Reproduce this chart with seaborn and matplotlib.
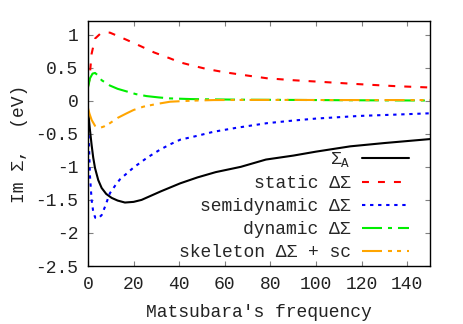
import matplotlib
matplotlib.use("Agg")
import matplotlib.pyplot as plt
import seaborn as sns

# Im Sigma vs Matsubara frequency
sa_x = [0, 0.8, 1.6, 2.3, 3.1, 4.5, 6, 8, 10.4, 13, 16.2, 20, 23.5, 32, 40.4, 48, 56, 67, 78, 90,
        100, 115, 130, 150]
sa_y = [-0.14, -0.42, -0.67, -0.86, -1.02, -1.20, -1.32, -1.41, -1.47, -1.51, -1.54, -1.53, -1.50,
        -1.37, -1.25, -1.16, -1.08, -1.0, -0.89, -0.83, -0.77, -0.69, -0.64, -0.58]

st_x = [0, 0.6, 1.6, 3.1, 5.3, 7, 9.6, 13, 17, 22.8, 29, 36, 40.4, 46, 52, 60, 70, 78.4, 90, 100, 119, 135, 150]
st_y = [0.22, 0.31, 0.71, 0.94, 1.01, 1.03, 1.03, 0.98, 0.92, 0.83, 0.73, 0.64, 0.58, 0.53, 0.48,
        0.43, 0.38, 0.34, 0.31, 0.29, 0.25, 0.22, 0.20]

sd_x = [0.3, 0.9, 1.6, 2.3, 3.2, 4.5, 6, 7.5, 9.6, 12, 14, 17, 20, 22.8, 26, 31.6, 36, 40.4, 48, 55,
        65, 78.4, 90, 100, 119, 135, 150]
sd_y = [-0.52, -1.15, -1.50, -1.68, -1.77, -1.78, -1.73, -1.60, -1.40, -1.28, -1.19, -1.10, -1.01,
        -0.94, -0.86, -0.74, -0.66, -0.59, -0.53, -0.47, -0.41, -0.34, -0.30, -0.27, -0.23, -0.21, -0.19]

dy_x = [0, 0.9, 2, 3.1, 4.5, 6, 9.6, 13, 17, 21, 25.7, 31, 36, 45, 55, 70, 90, 110, 130, 150]
dy_y = [0.20, 0.34, 0.41, 0.42, 0.38, 0.31, 0.23, 0.18, 0.14, 0.10, 0.07, 0.05, 0.035, 0.025,
        0.02, 0.015, 0.012, 0.008, 0.005, 0.003]

sk_x = [0, 0.6, 1.6, 3.1, 4.5, 5.3, 7, 9.6, 13, 17, 20, 24.3, 30, 36, 45, 55, 70, 90, 110, 130, 150]
sk_y = [-0.11, -0.19, -0.29, -0.38, -0.41, -0.41, -0.39, -0.34, -0.26, -0.19, -0.14, -0.09, -0.05,
        -0.015, 0.0, 0.01, 0.012, 0.012, 0.01, 0.01, 0.01]

labels = [r"$\mathrm{\Sigma_A}$", "static ΔΣ", "semidynamic ΔΣ", "dynamic ΔΣ", "skeleton ΔΣ + sc"]
xticks = [0, 20, 40, 60, 80, 100, 120, 140]
yticks = [-2.5, -2, -1.5, -1, -0.5, 0, 0.5, 1]
yticklabels = ["-2.5", "-2", "-1.5", "-1", "-0.5", "0", "0.5", "1"]

sns.set_style("ticks")
plt.rcParams["font.family"] = ["Liberation Mono", "DejaVu Sans"]
plt.rcParams["mathtext.fontset"] = "custom"
plt.rcParams["mathtext.rm"] = "Liberation Mono"
plt.rcParams["lines.scale_dashes"] = False
fs = 13

fig = plt.figure(figsize=(4.63, 3.24), dpi=100)
ax = fig.add_axes([0.190, 0.179, 0.739, 0.755])

series = [
    (sa_x, sa_y, "black", "-"),
    (st_x, st_y, "#ff0000", (0, (5, 6.5))),
    (sd_x, sd_y, "#0000ff", (0, (2.4, 3.4))),
    (dy_x, dy_y, "#00ee00", (0, (14.4, 4.3, 2.9, 4.3))),
    (sk_x, sk_y, "#ffa500", (0, (14.4, 4.3, 2.9, 3.6, 2.9, 4.3))),
]
for (x, y, c, ls), lab in zip(series, labels):
    sns.lineplot(x=x, y=y, ax=ax, color=c, linestyle=ls, linewidth=1.5, label=lab,
                 sort=False, estimator=None, errorbar=None)

ax.set_xlim(0, 150)
ax.set_ylim(-2.5, 1.2)
ax.set_xticks(xticks)
ax.set_xticklabels([str(t) for t in xticks])
ax.set_yticks(yticks)
ax.set_yticklabels(yticklabels)
ax.tick_params(direction="in", length=3.5, width=0.8, color="#808080", labelsize=fs,
               labelcolor="#222222", pad=7, top=True, right=True)
for s in ax.spines.values():
    s.set_visible(True)
    s.set_linewidth(1.0)
    s.set_color("black")

ax.set_xlabel("Matsubara's frequency", fontsize=fs, color="#222222", labelpad=8)
ax.set_ylabel("Im Σ,  (eV)", fontsize=fs, color="#222222", labelpad=5)

ax.legend(loc="lower right", bbox_to_anchor=(0.937, 0.02), frameon=False, markerfirst=False,
          fontsize=fs, handlelength=2.6, handletextpad=0.6, labelspacing=0.33,
          borderpad=0, borderaxespad=0)

fig.savefig("out.png", dpi=100)
